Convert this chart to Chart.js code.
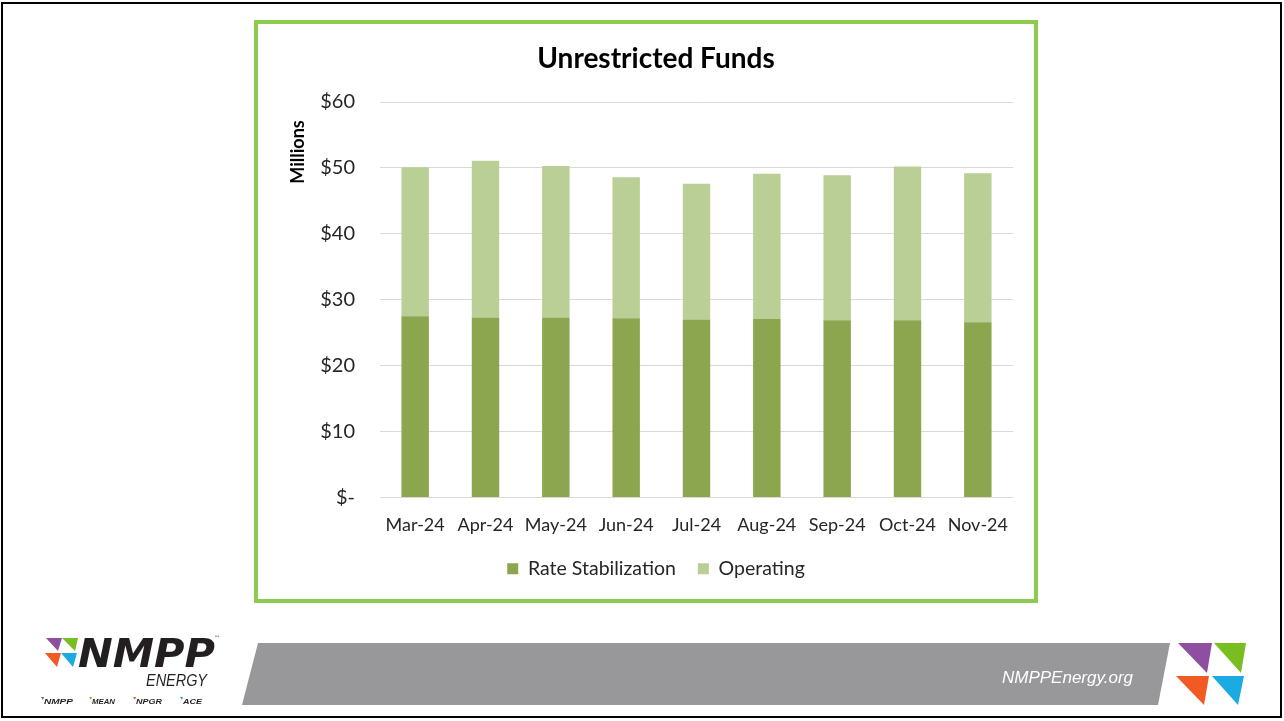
<!DOCTYPE html>
<html>
<head>
<meta charset="utf-8">
<script src="https://cdn.jsdelivr.net/npm/chart.js@4.4.1/dist/chart.umd.min.js"></script>
<style>
  html, body { margin: 0; padding: 0; background: #fff; }
  body { width: 1284px; height: 721px; position: relative; overflow: hidden; font-family: Lato, "Open Sans", sans-serif; }
  #frame { position: absolute; left: 1px; top: 2px; width: 1281px; height: 716px; box-sizing: border-box; border: 2px solid #000; }
  #greenbox { position: absolute; left: 254px; top: 20px; width: 784px; height: 583px; box-sizing: border-box; border: 4px solid #8CCB4F; background: #fff; }
  #chart { position: absolute; left: 258px; top: 24px; width: 776px; height: 575px; }
  #footer { position: absolute; left: 0; top: 0; }
</style>
</head>
<body>
<div id="frame"></div>
<div id="greenbox"></div>
<canvas id="chart" width="776" height="575"></canvas>
<svg id="footer" width="1284" height="721" xmlns="http://www.w3.org/2000/svg">
  <!-- gray banner -->
  <polygon points="258,643 1170,643 1158,705 242,705" fill="#98989B"/>
  <text x="1133" y="683" text-anchor="end" font-family="Liberation Sans, Arial, sans-serif" font-style="italic" font-size="17" fill="#fff">NMPPEnergy.org</text>
  <!-- right triangles -->
  <polygon points="1178,643 1212,643 1207,673" fill="#8E4FA0"/>
  <polygon points="1214,643 1246,643 1241,673" fill="#78BE21"/>
  <polygon points="1176,676 1209,676 1204,705" fill="#F15A22"/>
  <polygon points="1212,676 1244,676 1238,705" fill="#1BAAE1"/>
  <!-- left logo triangles -->
  <polygon points="46,638 62,638 58,651" fill="#8E4FA0"/>
  <polygon points="62,638 78,638 75,651" fill="#78BE21"/>
  <polygon points="45,653 61,653 57,667" fill="#F15A22"/>
  <polygon points="61,653 77,653 73,667" fill="#1BAAE1"/>
  <text x="78" y="667" font-family="DejaVu Sans, sans-serif" font-weight="bold" font-style="italic" font-size="39" fill="#231F20" textLength="137" lengthAdjust="spacingAndGlyphs">NMPP</text>
  <text x="214" y="640" font-family="DejaVu Sans, sans-serif" font-size="6" fill="#231F20">™</text>
  <text x="146" y="686" font-family="Liberation Sans, Arial, sans-serif" font-style="italic" font-size="16" fill="#231F20" textLength="61" lengthAdjust="spacingAndGlyphs">ENERGY</text>
  <g font-family="Liberation Sans, Arial, sans-serif" font-weight="bold" font-style="italic" font-size="8" fill="#231F20">
    <text x="44" y="704" textLength="29" lengthAdjust="spacingAndGlyphs">NMPP</text>
    <text x="92" y="704" textLength="23" lengthAdjust="spacingAndGlyphs">MEAN</text>
    <text x="136" y="704" textLength="26" lengthAdjust="spacingAndGlyphs">NPGR</text>
    <text x="183" y="704" textLength="19" lengthAdjust="spacingAndGlyphs">ACE</text>
  </g>
  <polygon points="41,697 44,697 43,700" fill="#8E4FA0"/>
  <polygon points="89,697 92,697 91,700" fill="#78BE21"/>
  <polygon points="133,697 136,697 135,700" fill="#F15A22"/>
  <polygon points="180,697 183,697 182,700" fill="#1BAAE1"/>
</svg>
<script>
// ---- data ----
const categories = ['Mar-24', 'Apr-24', 'May-24', 'Jun-24', 'Jul-24', 'Aug-24', 'Sep-24', 'Oct-24', 'Nov-24'];
const rateStabilization = [27.5, 27.3, 27.3, 27.2, 27.0, 27.1, 26.9, 26.9, 26.6];
const operating = [22.6, 23.8, 23.0, 21.4, 20.6, 22.0, 22.0, 23.3, 22.6];
const yTickLabels = ['$-', '$10', '$20', '$30', '$40', '$50', '$60'];
const seriesNames = ['Rate Stabilization', 'Operating'];
const chartTitle = 'Unrestricted Funds';
const unitLabel = 'Millions';

const FONT = 'Lato, "Open Sans", sans-serif';
const TEXT = '#262626';

const unitLabelPlugin = {
  id: 'unitLabel',
  afterDraw(chart) {
    const ctx = chart.ctx;
    ctx.save();
    ctx.translate(40, chart.chartArea.top + 50);
    ctx.rotate(-Math.PI / 2);
    ctx.font = 'bold 18px ' + FONT;
    ctx.fillStyle = '#000';
    ctx.textAlign = 'center';
    ctx.textBaseline = 'middle';
    ctx.fillText(unitLabel, 0, 0);
    ctx.restore();
  }
};

new Chart(document.getElementById('chart'), {
  type: 'bar',
  data: {
    labels: categories,
    datasets: [
      { label: seriesNames[0], data: rateStabilization, backgroundColor: '#8BA64E', borderWidth: 0, barPercentage: 0.39, categoryPercentage: 1.0 },
      { label: seriesNames[1], data: operating, backgroundColor: '#BACF96', borderWidth: 0, barPercentage: 0.39, categoryPercentage: 1.0 }
    ]
  },
  options: {
    responsive: false,
    animation: false,
    layout: { padding: { left: 41, right: 21, top: 0, bottom: 10.5 } },
    plugins: {
      title: { display: true, text: chartTitle, color: '#000', font: { family: FONT, size: 28, weight: 'bold' }, padding: { top: 18.2, bottom: 26.2 } },
      legend: { position: 'bottom', labels: { boxWidth: 11, boxHeight: 11, padding: 22, color: TEXT, font: { family: FONT, size: 19.5 } } },
      tooltip: { enabled: false }
    },
    scales: {
      x: {
        stacked: true,
        grid: { display: false, drawTicks: false },
        border: { display: false },
        ticks: { padding: 16.5, color: TEXT, font: { family: FONT, size: 18 }, maxRotation: 0, minRotation: 0, autoSkip: false },
        afterFit: (s) => { s.height = 39.5; }
      },
      y: {
        stacked: true,
        min: 0, max: 60,
        grid: { color: '#D9D9D9', drawTicks: false, lineWidth: 1 },
        border: { display: false },
        ticks: { stepSize: 10, padding: 25, color: TEXT, font: { family: FONT, size: 20 },
          callback: (v, i) => yTickLabels[Math.round(v / 10)] },
        afterFit: (s) => { s.width = 81; }
      }
    }
  },
  plugins: [unitLabelPlugin]
});
</script>
</body>
</html>
